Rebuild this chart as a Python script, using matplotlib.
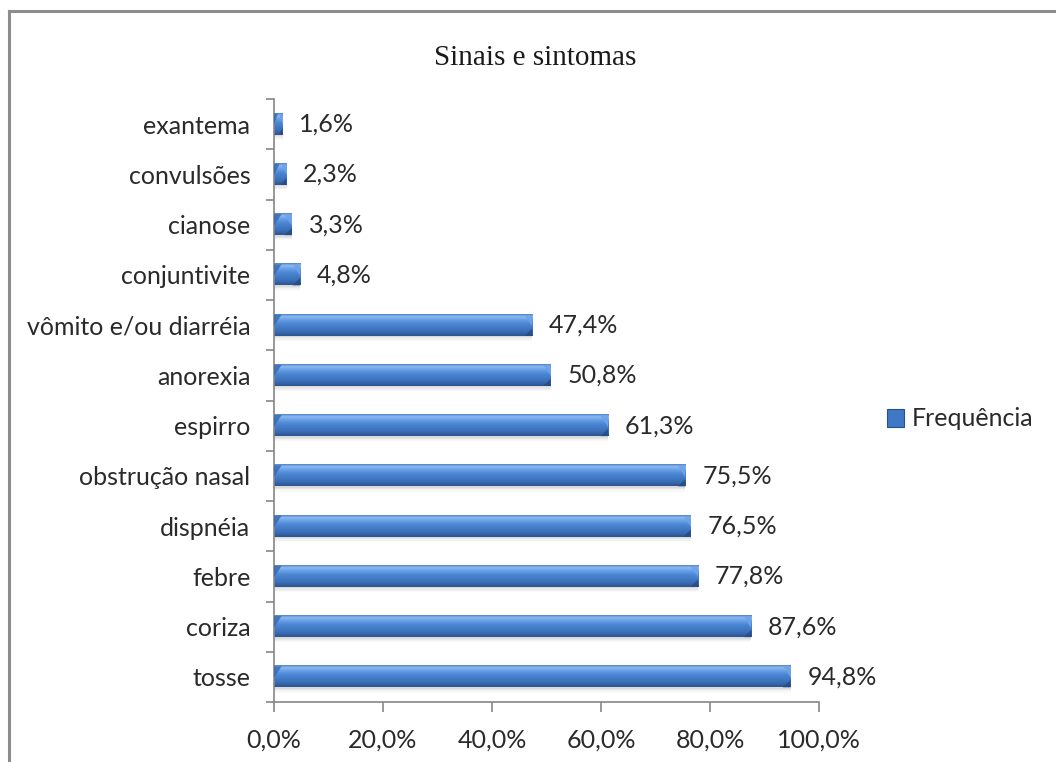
import numpy as np
import matplotlib
matplotlib.use('Agg')
import matplotlib.pyplot as plt
from matplotlib.colors import LinearSegmentedColormap
from matplotlib.patches import Rectangle, Polygon
from matplotlib.lines import Line2D

# sinais e sintomas, de baixo para cima
sintomas = ['tosse', 'coriza', 'febre', 'dispnéia', 'obstrução nasal', 'espirro',
            'anorexia', 'vômito e/ou diarréia', 'conjuntivite', 'cianose',
            'convulsões', 'exantema']
frequencia = [94.8, 87.6, 77.8, 76.5, 75.5, 61.3, 50.8, 47.4, 4.8, 3.3, 2.3, 1.6]
x_ticks = [0, 20, 40, 60, 80, 100]

label_font = 'Lato'
text_color = '#2a2a2a'
axis_color = '#868686'
fs = 18

fig = plt.figure(figsize=(10.56, 7.62), dpi=100)
ax = fig.add_axes([274 / 1056, 60 / 762, 545 / 1056, 603 / 762])

bar_cmap = LinearSegmentedColormap.from_list('barra', [
    (0.0, '#4f7fc4'), (0.1, '#8dbcf2'), (0.25, '#6aa0e6'),
    (0.45, '#4a86d4'), (0.8, '#3a6db5'), (1.0, '#2c5490')])
grad = np.linspace(0, 1, 64).reshape(-1, 1)

h = 0.42
bevel = 1.4
pos = np.arange(len(sintomas))
for y, v in zip(pos, frequencia):
    # sombra difusa abaixo da barra
    for k, a in enumerate([0.11, 0.08, 0.06, 0.04]):
        d = 0.03 + 0.025 * k
        ax.add_patch(Rectangle((0, y - h / 2 - d), v, h, color='#7a7a7a',
                               alpha=a, lw=0, zorder=1))
    ax.imshow(grad, cmap=bar_cmap, aspect='auto', interpolation='bicubic',
              extent=[0, v, y - h / 2, y + h / 2], origin='upper', zorder=2)
    b = min(bevel, v * 0.45)
    # chanfro nas extremidades
    ax.add_patch(Polygon([(v - b, y + h / 2), (v, y + h / 2), (v, y + h / 2 - h * 0.55)],
                         closed=True, color='#6fa3e8', alpha=0.9, lw=0, zorder=3))
    ax.add_patch(Polygon([(v, y - h / 2), (v - b, y - h / 2), (v, y - h / 2 + h * 0.35)],
                         closed=True, color='#24487e', alpha=0.7, lw=0, zorder=3))
    ax.add_patch(Polygon([(0, y + h / 2), (b, y + h / 2), (0, y + h / 2 - h * 0.55)],
                         closed=True, color='#3567ad', alpha=0.8, lw=0, zorder=3))
    ax.annotate(f'{v:.1f}%'.replace('.', ','), xy=(v, y), xytext=(12, 0),
                textcoords='offset points', va='center', ha='left',
                family=label_font, fontsize=fs, color=text_color)

ax.set_xlim(0, 100)
ax.set_ylim(-0.5, len(sintomas) - 0.5)

ax.set_xticks(x_ticks)
ax.set_xticklabels([f'{t:.1f}%'.replace('.', ',') for t in x_ticks],
                   family=label_font, fontsize=fs, color=text_color)
ax.set_yticks(pos)
ax.set_yticklabels(sintomas, family=label_font, fontsize=fs, color=text_color)
ax.set_yticks(np.arange(-0.5, len(sintomas)), minor=True)
ax.tick_params(axis='y', which='major', length=0, pad=17)
ax.tick_params(axis='y', which='minor', length=6, width=1.2, color=axis_color)
ax.tick_params(axis='x', length=7, width=1.2, color=axis_color, pad=12)

for side in ['top', 'right']:
    ax.spines[side].set_visible(False)
for side in ['left', 'bottom']:
    ax.spines[side].set_color(axis_color)
    ax.spines[side].set_linewidth(1.2)

fig.text(535 / 1056, 1 - 58 / 762, 'Sinais e sintomas', family='Liberation Serif',
         fontsize=21, color='#1a1a1a', ha='center', va='center')

handle = Rectangle((0, 0), 1, 1, facecolor='#3f78c4', edgecolor='#2a5088', lw=0.8)
fig.legend([handle], ['Frequência'], loc='center left',
           bbox_to_anchor=(864 / 1056, 1 - 419 / 762), frameon=False,
           handlelength=0.7, handleheight=0.7, handletextpad=0.3,
           prop={'family': label_font, 'size': fs}, labelcolor=text_color)

# moldura do gráfico
fig.add_artist(Line2D([9 / 1056, 9 / 1056], [0, 1 - 11 / 762],
                      transform=fig.transFigure, color='#8c8c8c', lw=2.2))
fig.add_artist(Line2D([9 / 1056, 1], [1 - 11 / 762, 1 - 11 / 762],
                      transform=fig.transFigure, color='#8c8c8c', lw=2.2))

fig.savefig('out.png', dpi=100)
